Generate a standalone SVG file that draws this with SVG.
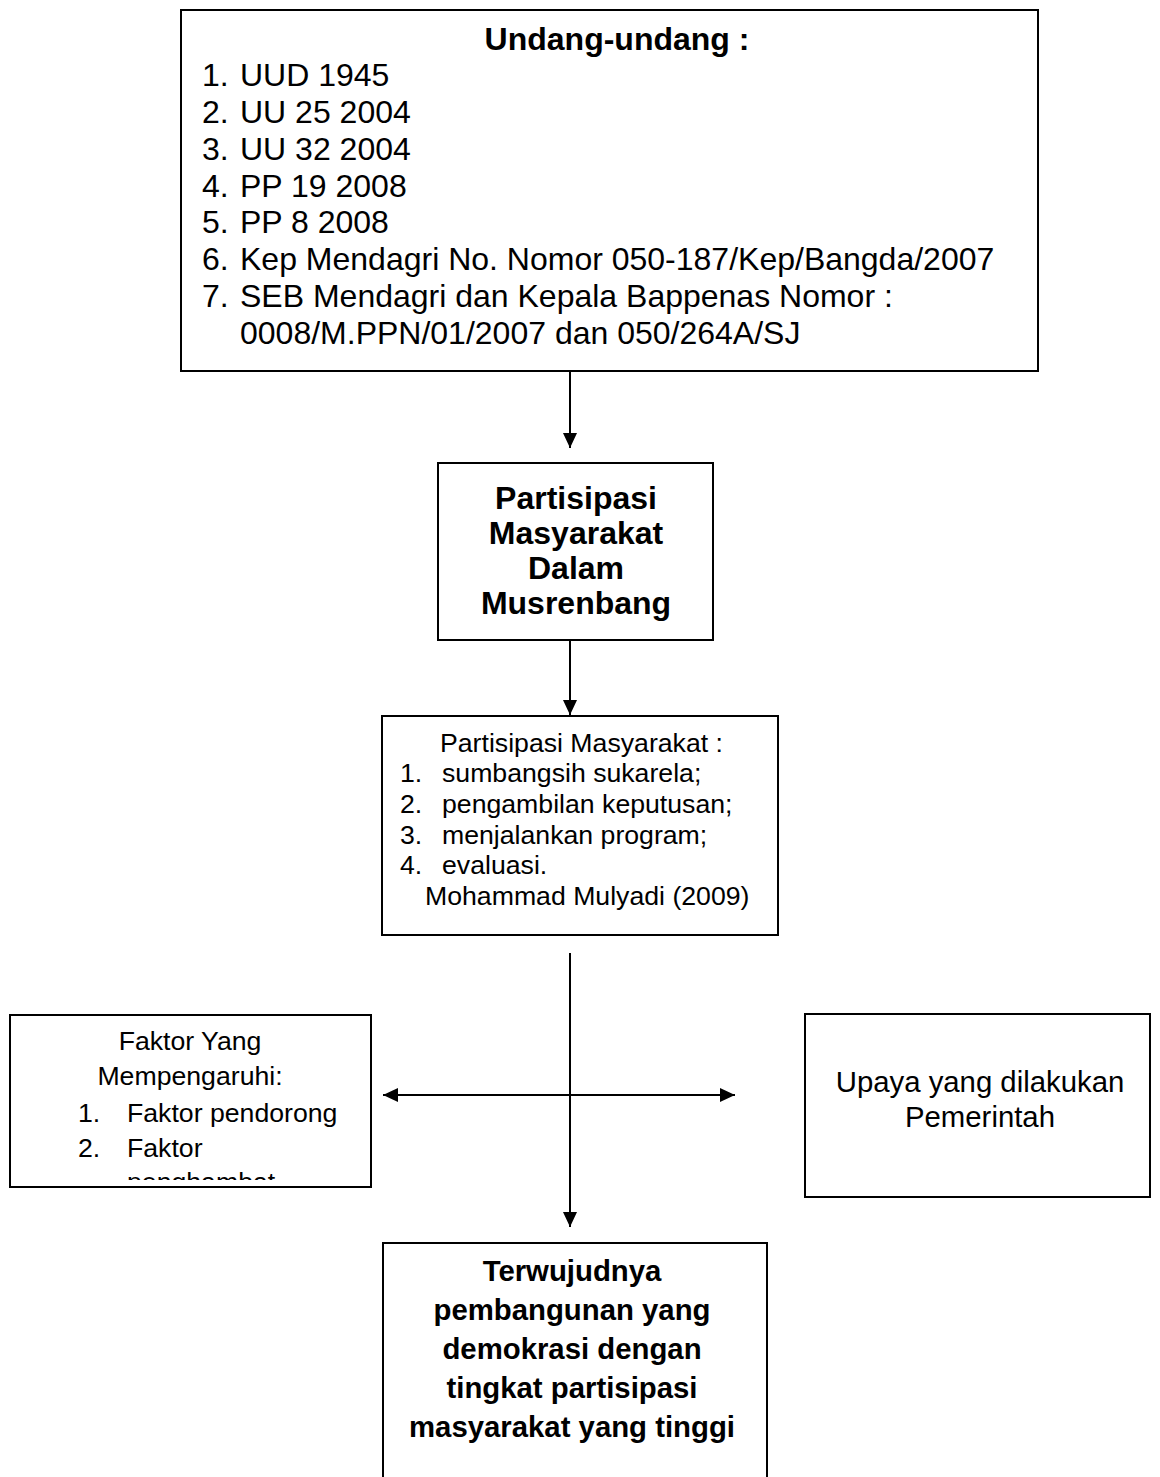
<svg xmlns="http://www.w3.org/2000/svg" width="1160" height="1477" viewBox="0 0 1160 1477">
<style>
.box{fill:#fff;stroke:#000;stroke-width:2}
.t{font-family:"Liberation Sans",Arial,sans-serif;fill:#000}
.b{font-weight:bold}
.c{text-anchor:middle}
.ln{stroke:#000;stroke-width:2;fill:none}
</style>
<defs>
<marker id="ah" markerUnits="userSpaceOnUse" markerWidth="16" markerHeight="16" viewBox="0 0 16 16" refX="15" refY="8" orient="auto-start-reverse">
<path d="M0,1 L15,8 L0,15 Z" fill="#000"/>
</marker>
<clipPath id="clipL"><rect x="11" y="1016" width="359" height="164"/></clipPath>
</defs>
<rect width="1160" height="1477" fill="#fff"/>
<g id="connectors">
<line class="ln" x1="570" y1="372" x2="570" y2="448" marker-end="url(#ah)"/>
<line class="ln" x1="570" y1="640" x2="570" y2="715" marker-end="url(#ah)"/>
<line class="ln" x1="570" y1="953" x2="570" y2="1227" marker-end="url(#ah)"/>
<line class="ln" x1="383" y1="1095" x2="735" y2="1095" marker-start="url(#ah)" marker-end="url(#ah)"/>
</g>
<g id="undang">
<rect class="box" x="181" y="10" width="857" height="361"/>
<text class="t b c" x="617" y="50" font-size="32">Undang-undang :</text>
<g class="t" font-size="32">
<text x="202" y="86">1.</text><text x="240" y="86">UUD 1945</text>
<text x="202" y="123">2.</text><text x="240" y="123">UU 25 2004</text>
<text x="202" y="160">3.</text><text x="240" y="160">UU 32 2004</text>
<text x="202" y="197">4.</text><text x="240" y="197">PP 19 2008</text>
<text x="202" y="233">5.</text><text x="240" y="233">PP 8 2008</text>
<text x="202" y="270">6.</text><text x="240" y="270">Kep Mendagri No. Nomor 050-187/Kep/Bangda/2007</text>
<text x="202" y="307">7.</text><text x="240" y="307">SEB Mendagri dan Kepala Bappenas Nomor :</text>
<text x="240" y="344">0008/M.PPN/01/2007 dan 050/264A/SJ</text>
</g>
</g>
<g id="partisipasi-musrenbang">
<rect class="box" x="438" y="463" width="275" height="177"/>
<g class="t b c" font-size="32">
<text x="576" y="509">Partisipasi</text>
<text x="576" y="544">Masyarakat</text>
<text x="576" y="579">Dalam</text>
<text x="576" y="614">Musrenbang</text>
</g>
</g>
<g id="partisipasi-masyarakat">
<rect class="box" x="382" y="716" width="396" height="219"/>
<g class="t" font-size="26.67">
<text x="440" y="752">Partisipasi Masyarakat :</text>
<text x="400" y="782">1.</text><text x="442" y="782">sumbangsih sukarela;</text>
<text x="400" y="813">2.</text><text x="442" y="813">pengambilan keputusan;</text>
<text x="400" y="844">3.</text><text x="442" y="844">menjalankan program;</text>
<text x="400" y="874">4.</text><text x="442" y="874">evaluasi.</text>
<text x="425" y="905">Mohammad Mulyadi (2009)</text>
</g>
</g>
<g id="faktor">
<rect class="box" x="10" y="1015" width="361" height="172"/>
<g class="t" font-size="26.67" clip-path="url(#clipL)">
<text class="c" x="190" y="1050">Faktor Yang</text>
<text class="c" x="190" y="1085">Mempengaruhi:</text>
<text x="78" y="1122">1.</text><text x="127" y="1122">Faktor pendorong</text>
<text x="78" y="1157">2.</text><text x="127" y="1157">Faktor</text>
<text x="127" y="1191">penghambat</text>
</g>
</g>
<g id="upaya">
<rect class="box" x="805" y="1014" width="345" height="183"/>
<g class="t c" font-size="29.33">
<text x="980" y="1092">Upaya yang dilakukan</text>
<text x="980" y="1127">Pemerintah</text>
</g>
</g>
<g id="terwujudnya">
<path class="ln" d="M383,1477 V1243 H767 V1477"/>
<g class="t b c" font-size="29.33">
<text x="572" y="1281">Terwujudnya</text>
<text x="572" y="1320">pembangunan yang</text>
<text x="572" y="1359">demokrasi dengan</text>
<text x="572" y="1398">tingkat partisipasi</text>
<text x="572" y="1437">masyarakat yang tinggi</text>
</g>
</g>
</svg>
